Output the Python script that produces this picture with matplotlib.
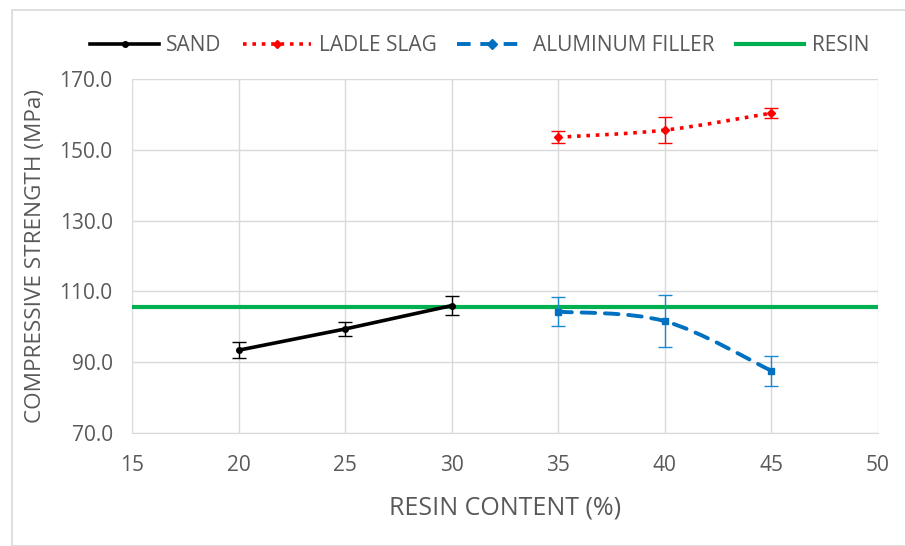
import numpy as np
import matplotlib.pyplot as plt
from matplotlib.path import Path
from matplotlib.patches import PathPatch, Rectangle
from matplotlib.lines import Line2D

# data
sand_x = [20, 25, 30]
sand_y = [93.4, 99.4, 106.0]
sand_err = [2.3, 2.0, 2.6]

slag_x = [35, 40, 45]
slag_y = [153.6, 155.6, 160.4]
slag_err = [1.7, 3.7, 1.5]

alu_x = [35, 40, 45]
alu_y = [104.3, 101.6, 87.6]
alu_err = [4.0, 7.3, 4.2]

resin_level = 105.6

x_ticks = [15, 20, 25, 30, 35, 40, 45, 50]
y_ticks = [70, 90, 110, 130, 150, 170]

plt.rcParams['font.family'] = ['Open Sans', 'DejaVu Sans']
grey = '#595959'


def smooth_path(xs, ys):
    # Excel-style smoothed line: Catmull-Rom segments as cubic Bezier
    pts = np.column_stack([xs, ys]).astype(float)
    n = len(pts)
    verts = [pts[0]]
    codes = [Path.MOVETO]
    for i in range(n - 1):
        p0 = pts[i - 1] if i > 0 else pts[i]
        p1 = pts[i]
        p2 = pts[i + 1]
        p3 = pts[i + 2] if i + 2 < n else pts[i + 1]
        c1 = p1 + (p2 - p0) / 6.0
        c2 = p2 - (p3 - p1) / 6.0
        verts += [c1, c2, p2]
        codes += [Path.CURVE4] * 3
    return Path(verts, codes)


fig = plt.figure(figsize=(9.05, 5.46), dpi=100)
ax = fig.add_axes([0.146, 0.207, 0.824, 0.648])

# figure border
fig.patches.append(Rectangle((12 / 905, 0), 1.0, 1 - 10 / 546, transform=fig.transFigure,
                             fill=False, edgecolor='#d9d9d9', lw=1.2, zorder=0))

ax.axhline(resin_level, color='#00b050', lw=3, zorder=2)

# sand: straight line
ax.plot(sand_x, sand_y, color='black', lw=2.6, zorder=3)
ax.errorbar(sand_x, sand_y, yerr=sand_err, fmt='o', color='black', ms=4,
            ecolor='black', elinewidth=1, capsize=5, capthick=1, zorder=4)

# ladle slag: smoothed dotted
ax.add_patch(PathPatch(smooth_path(slag_x, slag_y), fill=False, edgecolor='red',
                       lw=2.6, linestyle=(0, (1, 1.6)), zorder=3))
ax.errorbar(slag_x, slag_y, yerr=slag_err, fmt='D', color='red', ms=4,
            ecolor='red', elinewidth=1, capsize=5, capthick=1, zorder=4)

# aluminum filler: smoothed dashed
ax.add_patch(PathPatch(smooth_path(alu_x, alu_y), fill=False, edgecolor='#0070c0',
                       lw=2.8, linestyle=(0, (3.5, 2.5)), capstyle='round', zorder=3))
ax.errorbar(alu_x, alu_y, yerr=alu_err, fmt='s', color='#0070c0', ms=5,
            ecolor='#1a8ad4', elinewidth=1, capsize=5, capthick=1, zorder=4)

ax.set_xlim(15, 50)
ax.set_ylim(70, 170)
ax.set_xticks(x_ticks)
ax.set_yticks(y_ticks)
ax.set_yticklabels([f'{v:.1f}' for v in y_ticks])
ax.grid(True, color='#d9d9d9', lw=1)
ax.set_axisbelow(True)
for s in ['top', 'right', 'left']:
    ax.spines[s].set_visible(False)
ax.spines['bottom'].set_color('#d9d9d9')
ax.tick_params(length=0, labelsize=15, colors=grey)
ax.tick_params(axis='x', pad=16)
ax.tick_params(axis='y', pad=14)

ax.set_xlabel('RESIN CONTENT (%)', fontsize=18, color=grey, labelpad=14)
ax.set_ylabel('COMPRESSIVE STRENGTH (MPa)', fontsize=16.2, color=grey, labelpad=10)

handles = [
    Line2D([], [], color='black', lw=2.6, marker='o', ms=4),
    Line2D([], [], color='red', lw=2.6, ls=(0, (1, 1.6)), marker='D', ms=4),
    Line2D([], [], color='#0070c0', lw=2.8, ls=(0, (3.5, 2.5)), marker='D', ms=5),
    Line2D([], [], color='#00b050', lw=3),
]
labels = ['SAND', 'LADLE SLAG', 'ALUMINUM FILLER', 'RESIN']
leg = fig.legend(handles, labels, loc='center', bbox_to_anchor=(0.53, 0.917), ncol=4,
                 frameon=False, fontsize=15, handlelength=3.3, columnspacing=1.0,
                 handletextpad=0.35)
for t in leg.get_texts():
    t.set_color(grey)

fig.savefig('out.png', dpi=100)
